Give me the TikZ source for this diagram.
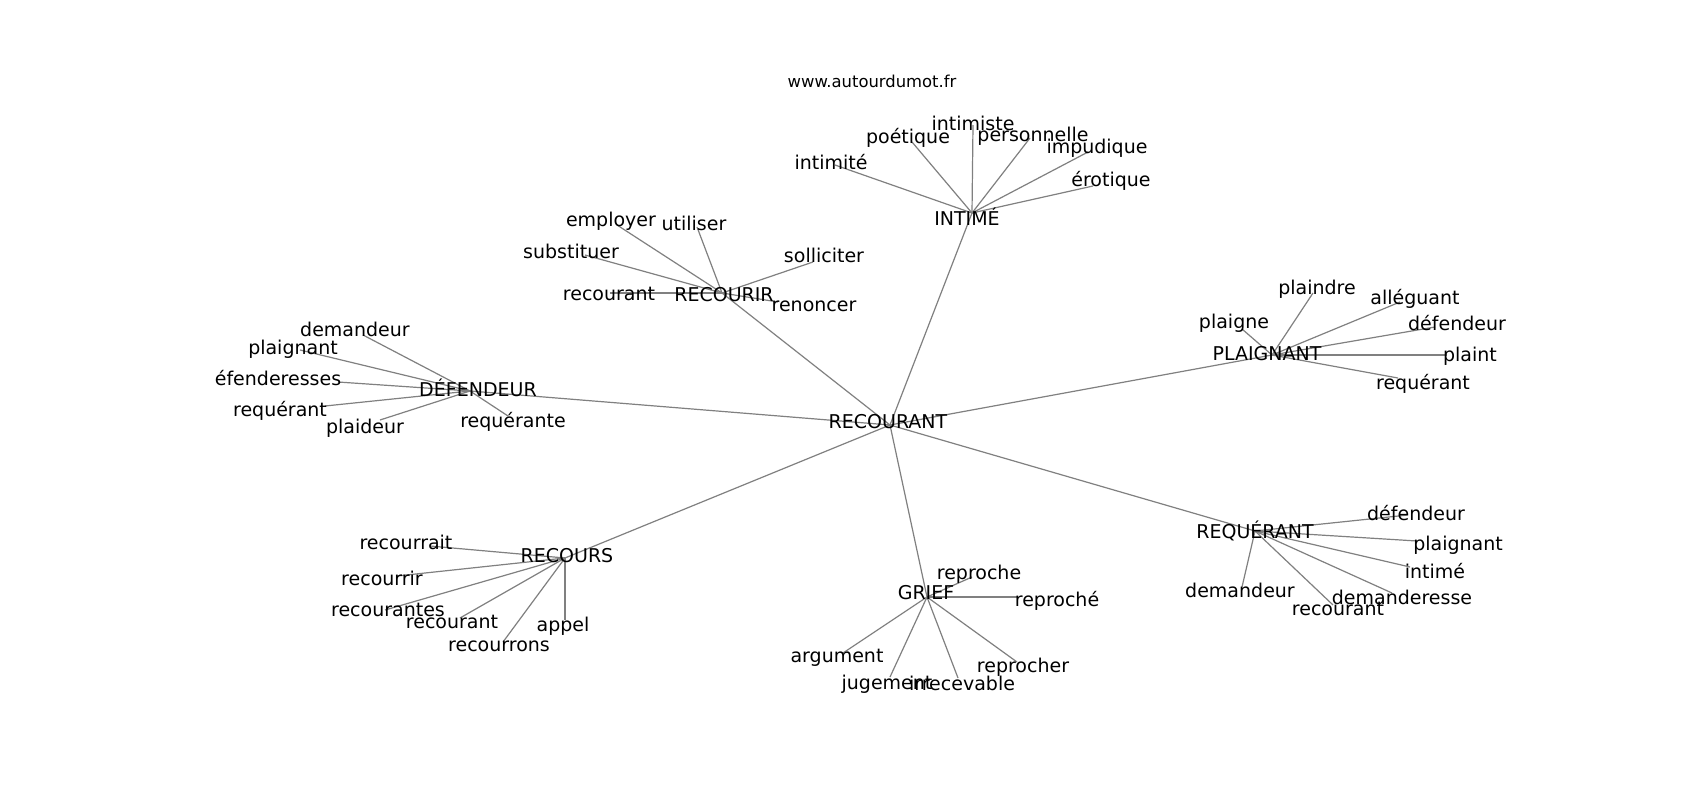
\documentclass[tikz,border=0pt]{standalone}
\usepackage{fontspec}
\setmainfont{DejaVu Sans}
\pgfdeclarelayer{bg}
\pgfsetlayers{bg,main}
% #1 name, #2/#3 text centre, #4/#5 connector end, #6 text
\newcommand\wordat[6]{%
  \coordinate (#1) at (#4,#5);
  \node[lbl] (#1-t) at (#2,{#3+7}) {#6};}
\begin{document}
\begin{tikzpicture}[x=1pt,y=-1pt,
  lbl/.style={font=\fontsize{19}{23}\selectfont, anchor=base, inner sep=0pt},
  ttl/.style={font=\fontsize{16.4}{20}\selectfont, anchor=base, inner sep=0pt},
  link/.style={draw=gray, line width=1.2pt}]
\useasboundingbox (0,0) rectangle (1700,800);

\node[ttl] (title) at (872,88) {www.autourdumot.fr};

% centre
\wordat{rec}{888}{421}{890}{425}{RECOURANT}

% INTIME
\wordat{int}{967}{218}{972}{213}{INTIMÉ}
\wordat{int1}{973}{123}{973}{125}{intimiste}
\wordat{int2}{908}{136}{912}{142}{poétique}
\wordat{int3}{1033}{134}{1030}{138}{personnelle}
\wordat{int4}{1097}{146}{1088}{152}{impudique}
\wordat{int5}{831}{162}{835}{165}{intimité}
\wordat{int6}{1111}{179}{1093}{186}{érotique}

% RECOURIR
\wordat{rir}{724}{294}{722}{293}{RECOURIR}
\wordat{rir1}{611}{219}{617}{225}{employer}
\wordat{rir2}{694}{223}{697}{227}{utiliser}
\wordat{rir3}{571}{251}{585}{255}{substituer}
\wordat{rir4}{609}{293}{610}{293}{recourant}
\wordat{rir5}{824}{255}{813}{262}{solliciter}
\wordat{rir6}{814}{304}{778}{302}{renoncer}

% DEFENDEUR
\wordat{def}{478}{389}{470}{391}{DÉFENDEUR}
\wordat{def1}{355}{329}{363}{335}{demandeur}
\wordat{def2}{293}{347}{300}{350}{plaignant}
\wordat{def3}{278}{378}{338}{382}{éfenderesses}
\wordat{def4}{280}{409}{325}{406}{requérant}
\wordat{def5}{365}{426}{380}{420}{plaideur}
\wordat{def6}{513}{420}{508}{416}{requérante}

% PLAIGNANT
\wordat{pla}{1267}{353}{1272}{355}{PLAIGNANT}
\wordat{pla1}{1317}{287}{1313}{293}{plaindre}
\wordat{pla2}{1415}{297}{1400}{302}{alléguant}
\wordat{pla3}{1234}{321}{1242}{329}{plaigne}
\wordat{pla4}{1457}{323}{1435}{327}{défendeur}
\wordat{pla5}{1470}{354}{1447}{355}{plaint}
\wordat{pla6}{1423}{382}{1398}{378}{requérant}

% REQUERANT
\wordat{req}{1255}{531}{1255}{531}{REQUÉRANT}
\wordat{req1}{1416}{513}{1408}{515}{défendeur}
\wordat{req2}{1458}{543}{1417}{541}{plaignant}
\wordat{req3}{1435}{571}{1410}{567}{intimé}
\wordat{req4}{1402}{597}{1392}{593}{demanderesse}
\wordat{req5}{1338}{608}{1333}{605}{recourant}
\wordat{req6}{1240}{590}{1242}{587}{demandeur}

% GRIEF
\wordat{gri}{926}{592}{927}{597}{GRIEF}
\wordat{gri1}{979}{572}{972}{577}{reproche}
\wordat{gri2}{1057}{599}{1017}{597}{reproché}
\wordat{gri3}{1023}{665}{1017}{662}{reprocher}
\wordat{gri4}{962}{683}{958}{678}{irrecevable}
\wordat{gri5}{887}{682}{890}{677}{jugement}
\wordat{gri6}{837}{655}{843}{653}{argument}

% RECOURS
\wordat{rcs}{567}{555}{565}{558}{RECOURS}
\wordat{rcs1}{406}{542}{430}{546}{recourrait}
\wordat{rcs2}{382}{578}{397}{576}{recourrir}
\wordat{rcs3}{388}{609}{385}{610}{recourantes}
\wordat{rcs4}{452}{621}{460}{618}{recourant}
\wordat{rcs5}{499}{644}{503}{642}{recourrons}
\wordat{rcs6}{563}{624}{565}{620}{appel}

\begin{pgfonlayer}{bg}
\fill[white] (0,0) rectangle (1700,800);
\foreach \h in {int,rir,def,pla,req,gri,rcs}
  \draw[link] (rec) -- (\h);
\foreach \h in {int,rir,def,pla,req,gri,rcs}
  \foreach \k in {1,...,6}
    \draw[link] (\h) -- (\h\k);
\end{pgfonlayer}
\end{tikzpicture}
\end{document}
